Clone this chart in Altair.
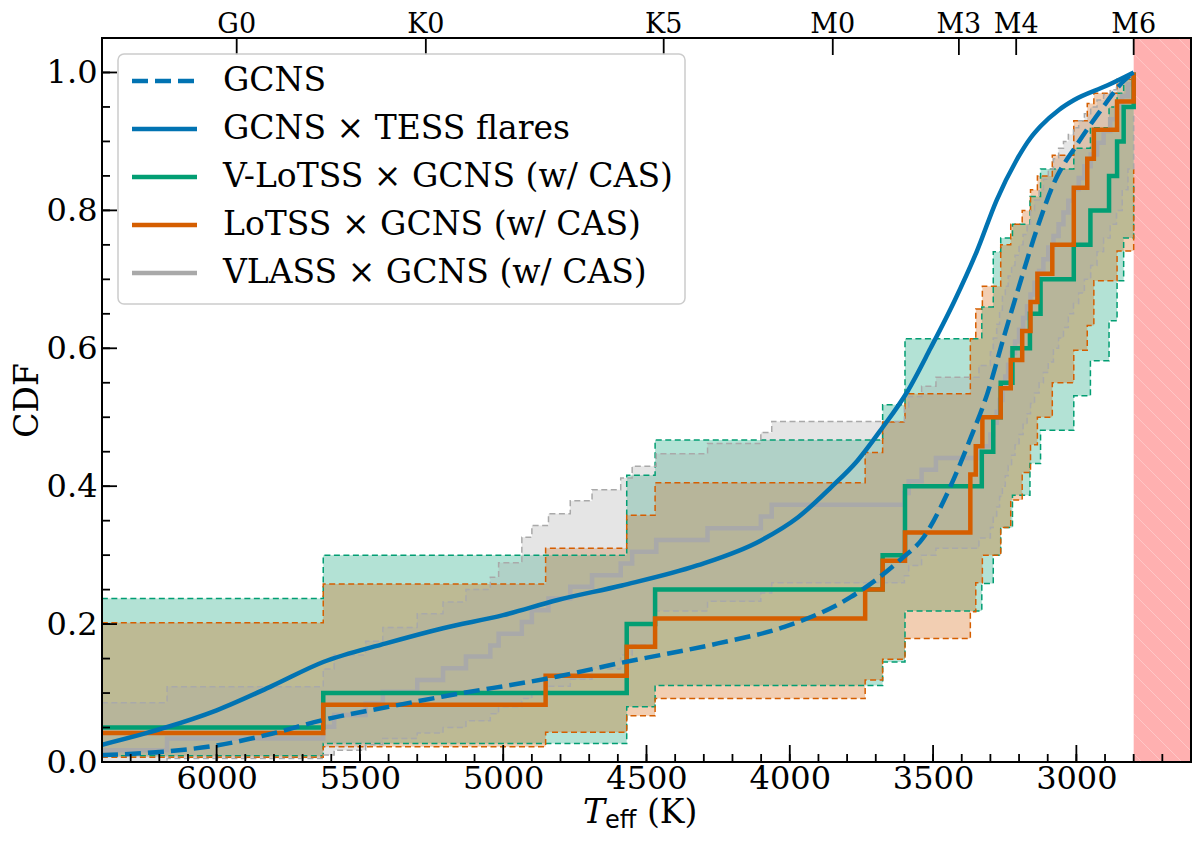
import altair as alt
import numpy as np
import pandas as pd

# ---------------- values ----------------
# V-LoTSS x GCNS (w/ CAS): step knots (Teff), CDF level right of the knot, band
green_T = [6500, 5628, 4569, 4470, 3676, 3598, 3330, 3290, 3264, 3223, 3162, 3125,
           3009, 2951, 2886, 2858, 2835, 2800]
green_cdf = [0.05, 0.10, 0.20, 0.25, 0.30, 0.40, 0.45, 0.50, 0.55, 0.60, 0.65, 0.70,
             0.75, 0.80, 0.85, 0.90, 0.95, 1.00]
green_lo = [0.009, 0.027, 0.080, 0.111, 0.145, 0.219, 0.259, 0.300, 0.340, 0.387, 0.433, 0.481,
            0.531, 0.582, 0.640, 0.698, 0.760, 0.840]
green_hi = [0.237, 0.300, 0.416, 0.467, 0.518, 0.614, 0.660, 0.740, 0.760, 0.780, 0.820, 0.860,
            0.890, 0.920, 0.950, 0.970, 0.990, 1.000]

# LoTSS x GCNS (w/ CAS)
orange_T = [6500, 5628, 4852, 4569, 4470, 3737, 3676, 3598, 3370, 3351, 3328, 3264,
            3229, 3189, 3160, 3136, 3084, 3009, 2962, 2939, 2858, 2800]
orange_cdf = [0.042, 0.083, 0.125, 0.167, 0.208, 0.250, 0.292, 0.333, 0.417, 0.458, 0.500, 0.542,
              0.583, 0.625, 0.667, 0.708, 0.750, 0.833, 0.875, 0.917, 0.958, 1.000]
orange_lo = [0.007, 0.022, 0.043, 0.067, 0.092, 0.119, 0.149, 0.179, 0.218, 0.260, 0.300, 0.340,
             0.380, 0.420, 0.460, 0.500, 0.550, 0.597, 0.633, 0.698, 0.741, 0.860]
orange_hi = [0.202, 0.258, 0.310, 0.358, 0.405, 0.449, 0.493, 0.534, 0.614, 0.657, 0.690, 0.750,
             0.780, 0.800, 0.830, 0.850, 0.880, 0.930, 0.955, 0.970, 0.990, 1.000]

# VLASS x GCNS (w/ CAS)
gray_T = [6500, 6173, 5628, 5590, 5480, 5420, 5300, 5210, 5130, 5045, 5016, 4935,
          4900, 4842, 4766, 4690, 4590, 4550, 4466, 4287, 4101, 4063, 3600, 3585,
          3540, 3490, 3340, 3300, 3290, 3278, 3268, 3258, 3248, 3238, 3226, 3214,
          3200, 3186, 3172, 3160, 3146, 3130, 3115, 3098, 3080, 3062, 3045, 3028,
          3010, 2992, 2972, 2950, 2928, 2905, 2882, 2860, 2840, 2820, 2800]
gray_cdf = [0.017, 0.034, 0.051, 0.068, 0.085, 0.102, 0.119, 0.136, 0.153, 0.169, 0.186, 0.203,
            0.220, 0.237, 0.254, 0.271, 0.288, 0.305, 0.322, 0.339, 0.356, 0.373, 0.390, 0.407,
            0.424, 0.441, 0.458, 0.475, 0.492, 0.508, 0.525, 0.542, 0.559, 0.576, 0.593, 0.610,
            0.627, 0.644, 0.661, 0.678, 0.695, 0.712, 0.729, 0.746, 0.763, 0.780, 0.797, 0.814,
            0.831, 0.847, 0.864, 0.881, 0.898, 0.915, 0.932, 0.949, 0.966, 0.983, 1.000]
gray_lo = [0.000, 0.005, 0.010, 0.017, 0.025, 0.034, 0.042, 0.050, 0.060, 0.070, 0.080, 0.092,
           0.100, 0.110, 0.120, 0.135, 0.155, 0.170, 0.219, 0.233, 0.245, 0.260, 0.270, 0.285,
           0.300, 0.310, 0.325, 0.340, 0.355, 0.370, 0.385, 0.400, 0.415, 0.430, 0.445, 0.460,
           0.475, 0.490, 0.505, 0.520, 0.535, 0.550, 0.565, 0.580, 0.600, 0.615, 0.630, 0.650,
           0.665, 0.680, 0.700, 0.720, 0.740, 0.760, 0.780, 0.800, 0.830, 0.860, 0.940]
gray_hi = [0.086, 0.109, 0.135, 0.155, 0.175, 0.195, 0.215, 0.232, 0.250, 0.268, 0.289, 0.326,
           0.343, 0.360, 0.379, 0.395, 0.412, 0.429, 0.447, 0.462, 0.478, 0.494, 0.515, 0.530,
           0.545, 0.558, 0.575, 0.595, 0.615, 0.635, 0.655, 0.675, 0.690, 0.705, 0.720, 0.735,
           0.750, 0.765, 0.780, 0.800, 0.815, 0.830, 0.845, 0.860, 0.875, 0.890, 0.900, 0.910,
           0.920, 0.930, 0.940, 0.950, 0.960, 0.968, 0.975, 0.982, 0.990, 0.995, 1.000]

# smooth curves
gcns_T = [6400, 6186, 6000, 5808, 5628, 5400, 5210, 4810, 4599, 4251, 4019, 3788, 3615,
          3533, 3450, 3369, 3310, 3254, 3200, 3140, 3078, 2997, 2917, 2834, 2800]
gcns_cdf = [0.010, 0.015, 0.024, 0.041, 0.061, 0.080, 0.095, 0.124, 0.143, 0.172, 0.196, 0.239,
            0.293, 0.326, 0.390, 0.470, 0.535, 0.615, 0.690, 0.770, 0.840, 0.896, 0.944, 0.988,
            1.000]
tess_T = [6400, 6186, 6000, 5808, 5628, 5409, 5210, 5000, 4810, 4586, 4323, 4102,
          3971, 3857, 3764, 3680, 3590, 3509, 3425, 3347, 3278, 3210, 3160, 3125, 3060, 3008,
          2893, 2800]
tess_cdf = [0.025, 0.049, 0.075, 0.110, 0.145, 0.172, 0.194, 0.213, 0.235, 0.256, 0.285, 0.321,
            0.355, 0.398, 0.437, 0.483, 0.537, 0.600, 0.669, 0.741, 0.815, 0.872, 0.905, 0.922,
            0.946, 0.960, 0.981, 1.000]

spec_types = ["G0", "K0", "K5", "M0", "M3", "M4", "M6"]
spec_teff = [5930, 5270, 4440, 3850, 3410, 3210, 2800]

legend_names = ["GCNS", "GCNS \u00d7 TESS flares", "V-LoTSS \u00d7 GCNS (w/ CAS)",
                "LoTSS \u00d7 GCNS (w/ CAS)", "VLASS \u00d7 GCNS (w/ CAS)"]

# ---------------- styling ----------------
BLUE, GREEN, ORANGE, GRAY, PINK = "#0173b2", "#029e73", "#d55e00", "#a9a9a9", "#ffb0b0"
SERIF = "DejaVu Serif"
W, H = 1089, 724
xs = alt.Scale(domain=[6400, 2600], nice=False, zero=False)
ys = alt.Scale(domain=[0, 1.05], nice=False, zero=False)

XAX = alt.Axis(values=[3000, 3500, 4000, 4500, 5000, 5500, 6000], format="d", ticks=False,
               domain=False, grid=False, title="", labelFont=SERIF, labelFontSize=32,
               labelColor="black", labelPadding=1, labelFlush=False, labelOverlap=False)
YAX = alt.Axis(values=[0.0, 0.2, 0.4, 0.6, 0.8, 1.0], format=".1f", ticks=False, domain=False,
               grid=False, labelFont=SERIF, labelFontSize=32, labelColor="black", labelPadding=5,
               labelFlush=False, labelOverlap=False, title="CDF", titleFont=SERIF,
               titleFontSize=33, titleFontWeight="normal", titleColor="black", titleAngle=270,
               titleX=-75, titleY=H / 2, titleAlign="center", titleBaseline="middle")


def X(f):
    return alt.X(f, type="quantitative", scale=xs, axis=XAX)


def Y(f):
    return alt.Y(f, type="quantitative", scale=ys, axis=YAX)


one = pd.DataFrame({"a": [0]})
layers = []

# cool-star region (M6 and later)
band = pd.DataFrame({"t0": [2800], "t1": [2600]})
layers.append(alt.Chart(band).mark_rect(color=PINK).encode(
    x=X("t0"), x2="t1:Q", y=alt.value(0), y2=alt.value(H)))

# faint hatching in the band
off = np.arange(-0.1, 1.06, 0.029)
hatch = pd.DataFrame({"xa": 2800, "xb": 2600, "ya": off + 0.083, "yb": off})
layers.append(alt.Chart(hatch).mark_rule(color="white", opacity=0.3, strokeWidth=1, clip=True)
              .encode(x=X("xa"), x2="xb", y=Y("ya"), y2="yb"))

series = [
    (green_T, green_cdf, green_lo, green_hi, GREEN),
    (orange_T, orange_cdf, orange_lo, orange_hi, ORANGE),
    (gray_T, gray_cdf, gray_lo, gray_hi, GRAY),
]
frames = [pd.DataFrame({"T": t, "cdf": c, "lo": lo, "hi": hi}) for t, c, lo, hi, _ in series]
STEP = "step-after"

for df, s in zip(frames, series):
    layers.append(alt.Chart(df).mark_area(interpolate=STEP, color=s[4], opacity=0.3, clip=True)
                  .encode(x=X("T"), y=Y("lo"), y2="hi"))
for df, s in zip(frames, series):
    for f in ["lo", "hi"]:
        layers.append(alt.Chart(df).mark_line(interpolate=STEP, color=s[4], strokeWidth=1.5,
                                              strokeDash=[6, 3.5], clip=True)
                      .encode(x=X("T"), y=Y(f)))
for i in [2, 0, 1]:
    layers.append(alt.Chart(frames[i]).mark_line(interpolate=STEP, color=series[i][4],
                                                  strokeWidth=4.5, clip=True)
                  .encode(x=X("T"), y=Y("cdf")))

gcns = pd.DataFrame({"T": gcns_T, "cdf": gcns_cdf})
tess = pd.DataFrame({"T": tess_T, "cdf": tess_cdf})
layers.append(alt.Chart(gcns).mark_line(interpolate="monotone", color=BLUE, strokeWidth=4.5,
                                        strokeDash=[16, 7], clip=True)
              .encode(x=X("T"), y=Y("cdf")))
layers.append(alt.Chart(tess).mark_line(interpolate="monotone", color=BLUE, strokeWidth=4.5,
                                        clip=True)
              .encode(x=X("T"), y=Y("cdf")))

# inward ticks
xminor = pd.DataFrame({"t": list(range(2600, 6401, 100))})
xmajor = pd.DataFrame({"t": list(range(3000, 6001, 500))})
yminor = pd.DataFrame({"v": [round(0.05 * i, 2) for i in range(22)]})
ymajor = pd.DataFrame({"v": [0.0, 0.2, 0.4, 0.6, 0.8, 1.0]})
tick = dict(color="black", strokeWidth=1.8)
layers.append(alt.Chart(xminor).mark_rule(**tick).encode(
    x=X("t"), y=alt.value(H), y2=alt.value(H - 8)))
layers.append(alt.Chart(xmajor).mark_rule(**tick).encode(
    x=X("t"), y=alt.value(H), y2=alt.value(H - 17)))
layers.append(alt.Chart(yminor).mark_rule(**tick).encode(
    y=Y("v"), x=alt.value(0), x2=alt.value(8)))
layers.append(alt.Chart(ymajor).mark_rule(**tick).encode(
    y=Y("v"), x=alt.value(0), x2=alt.value(15)))

# top axis: spectral types
spec = pd.DataFrame({"T": spec_teff, "sp": spec_types})
layers.append(alt.Chart(spec).mark_rule(**tick).encode(
    x=X("T"), y=alt.value(0), y2=alt.value(17)))
layers.append(alt.Chart(spec).mark_text(font=SERIF, fontSize=27, baseline="alphabetic",
                                        color="black")
              .encode(x=X("T"), y=alt.value(-5), text="sp:N"))

# x title: T_eff (K)
layers.append(alt.Chart(one).mark_text(text="T", font=SERIF, fontSize=33, fontStyle="italic",
                                       align="left", baseline="alphabetic", color="black")
              .encode(x=alt.value(481), y=alt.value(785)))
layers.append(alt.Chart(one).mark_text(text="eff", font="DejaVu Sans", fontSize=24,
                                       align="left", baseline="alphabetic", color="black")
              .encode(x=alt.value(503), y=alt.value(790)))
layers.append(alt.Chart(one).mark_text(text="(K)", font=SERIF, fontSize=33, align="left",
                                       baseline="alphabetic", color="black")
              .encode(x=alt.value(545), y=alt.value(785)))

# legend
layers.append(alt.Chart(one).mark_rect(fill="white", fillOpacity=0.8, stroke="#cccccc",
                                       strokeWidth=1.5, cornerRadius=6)
              .encode(x=alt.value(16), x2=alt.value(583), y=alt.value(16), y2=alt.value(266)))
leg_colors = [BLUE, BLUE, GREEN, ORANGE, GRAY]
for i, (name, col) in enumerate(zip(legend_names, leg_colors)):
    yy = 43 + 48 * i
    style = dict(color=col, strokeWidth=4.5)
    if i == 0:
        style["strokeDash"] = [16, 7]
    layers.append(alt.Chart(one).mark_rule(**style).encode(
        x=alt.value(30), x2=alt.value(95), y=alt.value(yy)))
    layers.append(alt.Chart(one).mark_text(text=name, font=SERIF, fontSize=33, align="left",
                                           baseline="middle", color="black")
                  .encode(x=alt.value(121), y=alt.value(yy)))

# frame
layers.append(alt.Chart(one).mark_rect(fill="transparent", stroke="black", strokeWidth=2)
              .encode(x=alt.value(0), x2=alt.value(W), y=alt.value(0), y2=alt.value(H)))

chart = alt.layer(*layers).properties(
    width=W, height=H,
    padding={"left": 94, "top": 30, "right": 1, "bottom": 73},
    autosize=alt.AutoSizeParams(type="none"),
).configure_view(strokeOpacity=0)

chart.save("out.html", embed_options={"renderer": "svg", "actions": False})
